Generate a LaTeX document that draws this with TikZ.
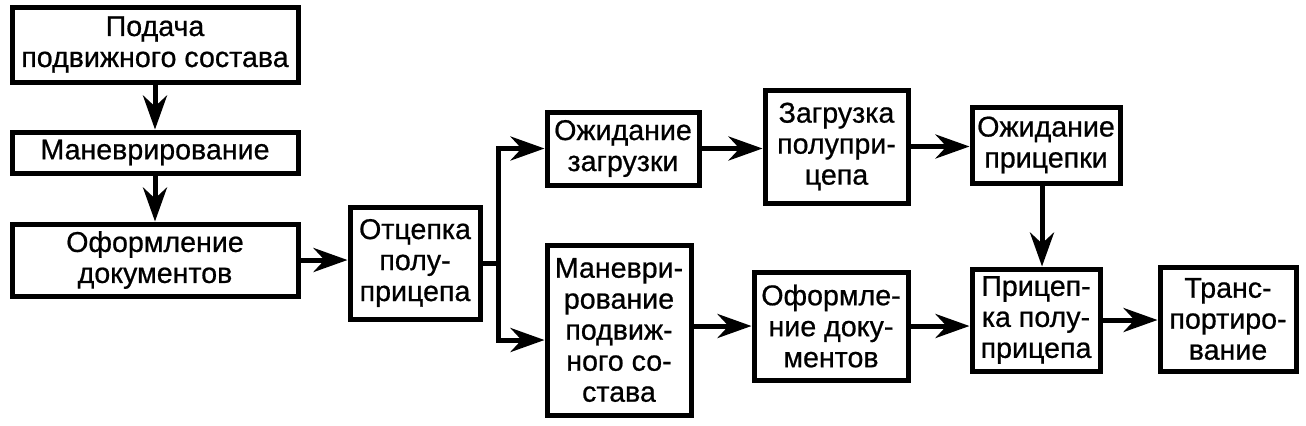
\documentclass[tikz,border=0pt]{standalone}
\usepackage{fontspec}
\setmainfont{Liberation Sans}[FakeBold=0.7]
\usetikzlibrary{arrows.meta}
\begin{document}
\begin{tikzpicture}[x=0.5pt,y=-0.5pt,line width=2.5pt,line join=miter,
		font=\fontsize{14.3}{15.5}\selectfont,
		>={Stealth[length=17pt,width=12pt,inset=5.5pt]},
		box/.style 2 args={draw,align=center,inner sep=0pt,minimum width=#1*0.5pt,minimum height=#2*0.5pt}
	]
	\useasboundingbox (0,0) rectangle (1306,425);
	\node[box={286}{75}] (podacha) at (155,44.5) {Подача\\подвижного состава};
	\node[box={286}{41}] (manevr) at (155,152.5) {Маневрирование};
	\node[box={286}{72}] (oform) at (155,260) {Оформление\\документов};
	\node[box={130}{112}] (otcep) at (415,263) {Отцепка\\полу-\\прицепа};
	\node[box={152}{73}] (ozhidz) at (623,148.5) {Ожидание\\загрузки};
	\node[box={144}{170}] (manevrps) at (619,330) {Маневри-\\рование\\подвиж-\\ного со-\\става};
	\node[box={143}{113}] (zagr) at (836.5,146.5) {Загрузка\\полупри-\\цепа};
	\node[box={154}{108}] (oformd) at (831,326) {Оформле-\\ние доку-\\ментов};
	\node[box={148}{76}] (ozhidp) at (1046,145) {Ожидание\\прицепки};
	\node[box={128}{102}] (pricep) at (1036,320) {Прицеп-\\ка полу-\\прицепа};
	\node[box={136}{104}] (trans) at (1228,319) {Транс-\\портиро-\\вание};
	\coordinate (split) at (498,263);
	\draw[->] (podacha) -- (manevr);
	\draw[->] (manevr) -- (oform);
	\draw[->] (oform.east) -- (oform.east -| otcep.west);
	\draw (otcep.east) -- (split);
	\draw[->] (split) |- (ozhidz.west);
	\draw[->] (split) |- ([yshift=-5pt]manevrps.west);
	\draw[->] (ozhidz.east) -- (ozhidz.east -| zagr.west);
	\draw[->] (zagr.east) -- (zagr.east -| ozhidp.west);
	\draw[->] (oformd.west -| manevrps.east) -- (oformd.west);
	\draw[->] (oformd.east) -- (oformd.east -| pricep.west);
	\draw[->] (ozhidp.south -| 1042,0) -- (pricep.north -| 1042,0);
	\draw[->] (pricep.east) -- (pricep.east -| trans.west);
\end{tikzpicture}
\end{document}
